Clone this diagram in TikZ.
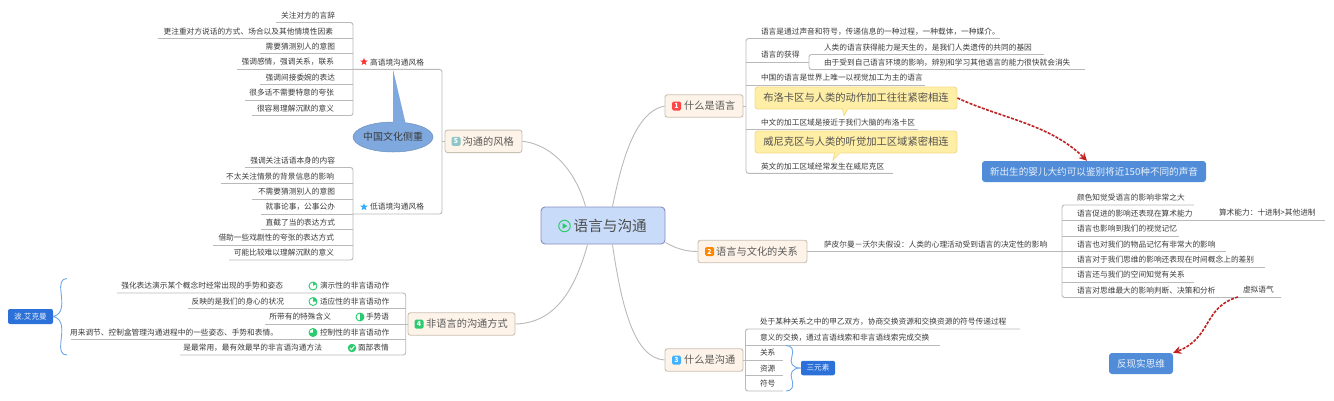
\documentclass[tikz,border=0pt]{standalone}
\usepackage{fontspec}
\setmainfont{Noto Sans CJK SC}
\usetikzlibrary{arrows.meta,shapes.geometric,calc}
\definecolor{linec}{HTML}{B9B9B9}
\definecolor{txtc}{HTML}{3A3A3A}
\definecolor{boxf}{HTML}{FDF3E8}
\definecolor{boxd}{HTML}{C9C0B4}
\definecolor{boxt}{HTML}{5A5A5A}
\definecolor{dblue}{HTML}{2B71D9}
\definecolor{mblue}{HTML}{508CD8}
\definecolor{ellf}{HTML}{7FA9DE}
\definecolor{yelf}{HTML}{FFEEA6}
\definecolor{yeld}{HTML}{F2DC8A}
\definecolor{redc}{HTML}{BE2222}
\definecolor{grn}{HTML}{2CCB6F}
\definecolor{bracec}{HTML}{6EA6E8}
\tikzset{
 ul/.style={draw=linec,line width=0.9pt},
 tx/.style={inner sep=0pt,outer sep=0pt,text=txtc,font=\fontsize{7.7pt}{9pt}\selectfont},
 box/.style={draw=boxd,fill=boxf,line width=0.9pt,rounded corners=2.5pt,inner sep=0pt},
 boxtxt/.style={inner sep=0pt,text=boxt,anchor=west,font=\fontsize{10.2pt}{12pt}\selectfont},
 badge/.style={inner sep=0pt,minimum size=9pt,rounded corners=1.5pt,text=white,font=\fontsize{7pt}{8pt}\selectfont\bfseries},
 bluebox/.style={fill=mblue,rounded corners=3pt,inner sep=0pt,text=white!88!mblue,font=\fontsize{9.6pt}{11pt}\selectfont},
 tagbox/.style={fill=dblue,rounded corners=2pt,inner sep=0pt,text=white!90!dblue,font=\fontsize{7.6pt}{9pt}\selectfont},
 yel/.style={fill=yelf,draw=yeld,line width=0.9pt,rounded corners=3pt,inner sep=0pt,minimum width=202pt,minimum height=22pt,text=boxt!90!black,font=\fontsize{10.3pt}{12pt}\selectfont},
 rdash/.style={draw=redc,line width=1.6pt,dash pattern=on 3pt off 1.4pt,-{Stealth[length=8pt,width=8pt]}},
 brc/.style={draw=bracec,line width=0.9pt},
 link/.style={draw=linec,line width=0.9pt},
}
% right-going leaf: name, trunk x, end x, line y, text x, text
\newcommand\lfR[6]{\coordinate (#1s) at (#2,#4);\coordinate (#1e) at (#3,#4);\node[tx,anchor=west] (#1) at (#5,#4-7.2) {#6};}
% left-going leaf: name, trunk x, end x, line y, text right x, text
\newcommand\lfL[6]{\coordinate (#1s) at (#2,#4);\coordinate (#1e) at (#3,#4);\node[tx,anchor=east] (#1) at (#5,#4-7.2) {#6};}
% pie icon: name, x, y, end angle (clockwise from top)
\newcommand\pieicon[4]{\node[circle,draw=grn,fill=white,line width=0.9pt,minimum size=8pt,inner sep=0pt] (#1) at (#2,#3) {};
 \fill[grn] (#1.center) -- ([shift={(90:4pt)}]#1.center) arc[start angle=90,end angle=#4,radius=4pt] -- cycle;}
\begin{document}
\begin{tikzpicture}[x=1pt,y=-1pt]
\useasboundingbox (0,0) rectangle (1334,400);
% central
\node[draw=blue!30!gray!70,fill={rgb,255:red,200;green,220;blue,250},line width=0.9pt,rounded corners=4pt,minimum width=124pt,minimum height=37pt,inner sep=0pt] (root) at (603,225.5) {};
\node[circle,draw=grn,line width=1pt,minimum size=11.5pt,inner sep=0pt] (play) at (564.5,226) {};
\fill[grn] ($(play)+(-1.8,-2.8)$) -- ($(play)+(3,0)$) -- ($(play)+(-1.8,2.8)$) -- cycle;
\node[inner sep=0pt,anchor=west,text=boxt!85!black,font=\fontsize{14.6pt}{16pt}\selectfont] (roott) at (573.5,226) {语言与沟通};
% main boxes
\node[box,minimum width=78pt,minimum height=22.5pt] (b1) at (704,106) {};
\node[box,minimum width=109pt,minimum height=22.5pt] (b2) at (752.5,251.5) {};
\node[box,minimum width=78pt,minimum height=22.5pt] (b3) at (704,360) {};
\node[box,minimum width=107pt,minimum height=22.5pt] (b4) at (461.5,324) {};
\node[box,minimum width=77pt,minimum height=22.5pt] (b5) at (483.5,141.3) {};
\node[badge,fill=red!72!white] (g1) at (676.5,106) {1};
\node[badge,fill=orange!95!yellow] (g2) at (709.5,251.5) {2};
\node[badge,fill=blue!40!cyan!75!white] (g3) at (676.5,360) {3};
\node[badge,fill=grn] (g4) at (419,324) {4};
\node[badge,fill=teal!45!white] (g5) at (456,141.3) {5};
\node[boxtxt] (t1) at (684,106) {什么是语言};
\node[boxtxt] (t2) at (716,251.5) {语言与文化的关系};
\node[boxtxt] (t3) at (684,360) {什么是沟通};
\node[boxtxt] (t4) at (426,324) {非语言的沟通方式};
\node[boxtxt] (t5) at (462.5,141.3) {沟通的风格};
% links from root
\draw[link] ($(root.north west)+(45,0)$) .. controls (577,175) and (555,145) .. (b5.east);
\draw[link] ($(root.north east)+(-53,0)$) .. controls (622,160) and (635,112) .. (b1.west);
\draw[link] ($(root.south east)+(0,-2)$) .. controls (675,248) and (685,251.5) .. (b2.west);
\draw[link] ($(root.south west)+(47,0)$) .. controls (575,290) and (555,323) .. (b4.east);
\draw[link] ($(root.south east)+(-53,0)$) .. controls (622,310) and (635,358) .. (b3.west);
% ---- branch 1
\lfR{a1}{746}{1000}{38.5}{761}{语言是通过声音和符号，传递信息的一种过程，一种载体，一种媒介。}
\lfR{a2}{746}{809}{62}{761}{语言的获得}
\lfR{a21}{809}{1044}{54.5}{824}{人类的语言获得能力是天生的，是我们人类遗传的共同的基因}
\lfR{a22}{809}{1085}{69.5}{824}{由于受到自己语言环境的影响，辨别和学习其他语言的能力很快就会消失}
\lfR{a3}{746}{925}{85}{761}{中国的语言是世界上唯一以视觉加工为主的语言}
\lfR{a4}{746}{918}{129.5}{761}{中文的加工区域是接近于我们大脑的布洛卡区}
\lfR{a5}{746}{893}{173.3}{761}{英文的加工区域经常发生在威尼克区}
\draw[ul,rounded corners=2.5pt] (a1e) -- (a1s) -- (a5s) -- (a5e);
\foreach \n in {a2,a3,a4}{\draw[ul] (\n s) -- (\n e);}
\draw[ul,rounded corners=2.5pt] (a21e) -- (a21s) -- (a22s) -- (a22e);
\draw[link] (b1.east) -- (b1.east -| a1s);
% yellow callouts
\draw[yeld,fill=yelf,line width=0.7pt] (842,107) -- (844,115.7) -- (849,107) -- cycle;
\draw[yeld,fill=yelf,line width=0.7pt] (835,151) -- (833,160) -- (842,151) -- cycle;
\node[yel] (y1) at (856,98) {布洛卡区与人类的动作加工往往紧密相连};
\node[yel] (y2) at (856,142) {威尼克区与人类的听觉加工区域紧密相连};
\fill[yelf] (842.5,107.5) -- (844,113.5) -- (848.5,107.5) -- cycle;
\fill[yelf] (835.5,151.5) -- (834.5,157.5) -- (841.5,151.5) -- cycle;
% blue comment
\node[bluebox,minimum width=224pt,minimum height=21pt] (c1) at (1094,171.5) {新出生的婴儿大约可以鉴别将近150种不同的声音};
\draw[rdash] (y1.east) .. controls (1000,118) and (1050,124) .. ($(c1.north)+(-7,0)$);
% ---- branch 2
\lfR{s0}{807}{1062}{251.5}{824}{萨皮尔曼－沃尔夫假设：人类的心理活动受到语言的决定性的影响}
\lfR{s1}{1062}{1194}{205}{1077}{颜色知觉受语言的影响非常之大}
\lfR{s2}{1062}{1325}{220.5}{1077}{语言促进的影响还表现在算术能力}
\node[tx,anchor=west] (s2a) at (1219,213) {算术能力：十进制>其他进制};
\lfR{s3}{1062}{1179}{236}{1077}{语言也影响到我们的视觉记忆}
\lfR{s4}{1062}{1226}{251.5}{1077}{语言也对我们的物品记忆有非常大的影响}
\lfR{s5}{1062}{1265}{267}{1077}{语言对于我们思维的影响还表现在时间概念上的差别}
\lfR{s6}{1062}{1194}{282}{1077}{语言还与我们的空间知觉有关系}
\lfR{s7}{1062}{1281}{297.5}{1077}{语言对思维最大的影响判断、决策和分析}
\node[tx,anchor=west] (s7a) at (1243,290) {虚拟语气};
\draw[ul] (b2.east) -- (s0e);
\draw[ul,rounded corners=2.5pt] (s1e) -- (s1s) -- (s7s) -- (s7e);
\foreach \n in {s2,s3,s4,s5,s6}{\draw[ul] (\n s) -- (\n e);}
\node[bluebox,minimum width=64pt,minimum height=21pt] (c2) at (1141,363.5) {反现实思维};
\coordinate (v1) at (1238,297);
\draw[rdash] (v1) .. controls (1203,307) and (1212,338) .. (c2.north east);
% ---- branch 3
\lfR{m1}{745.5}{1020}{329}{760}{处于某种关系之中的甲乙双方，协商交换资源和交换资源的符号传递过程}
\lfR{m2}{745.5}{940}{345}{760}{意义的交换，通过言语线索和非言语线索完成交换}
\lfR{m3}{745.5}{783}{360}{760}{关系}
\lfR{m4}{745.5}{783}{375.5}{760}{资源}
\lfR{m5}{745.5}{783}{391}{760}{符号}
\draw[ul,rounded corners=2.5pt] (m1e) -- (m1s) -- (m5s) -- (m5e);
\foreach \n in {m2,m3,m4}{\draw[ul] (\n s) -- (\n e);}
\draw[ul] (b3.east) -- (m3e);
\node[tagbox,minimum width=34pt,minimum height=14.5pt] (tr) at (818,368) {三元素};
\coordinate (bt) at (786,345.5);
\coordinate (bb) at (786,391);
\draw[brc] (bt) .. controls (792,345.5) and (794,350) .. (792,356) .. controls (790,362) and (791,368) .. (tr.west)
 (tr.west) .. controls (791,368) and (790,374) .. (792,380) .. controls (794,387) and (792,391) .. (bb);
% ---- branch 4
\lfL{n1}{405.7}{117}{293}{283}{强化表达演示某个概念时经常出现的手势和姿态}
\lfL{n2}{405.7}{188}{308.5}{284}{反映的是我们的身心的状况}
\lfL{n3}{408}{265}{324}{331}{所带有的特殊含义}
\lfL{n4}{405.7}{71}{339.5}{278}{用来调节、控制盒管理沟通进程中的一些姿态、手势和表情。}
\lfL{n5}{405.7}{180}{355}{322}{是最常用，最有效最早的非言语沟通方法}
\draw[ul,rounded corners=2.5pt] (n1e) -- (n1s) -- (n5s) -- (n5e);
\foreach \n in {n2,n3,n4}{\draw[ul] (\n s) -- (\n e);}
\pieicon{p1}{313}{286}{30}
\pieicon{p2}{313}{301.5}{0}
\pieicon{p3}{360}{317}{-90}
\pieicon{p4}{313}{332.5}{-180}
\node[circle,fill=grn,minimum size=8.5pt,inner sep=0pt] (p5) at (352,348) {};
\draw[white,line width=1pt] ($(p5)+(-2,0)$) -- ($(p5)+(-0.5,1.7)$) -- ($(p5)+(2.2,-1.6)$);
\node[tx,anchor=west] (q1) at (320,286) {演示性的非言语动作};
\node[tx,anchor=west] (q2) at (320,301.5) {适应性的非言语动作};
\node[tx,anchor=west] (q3) at (366,317) {手势语};
\node[tx,anchor=west] (q4) at (320,332.5) {控制性的非言语动作};
\node[tx,anchor=west] (q5) at (358,348) {面部表情};
\node[tagbox,minimum width=45pt,minimum height=15pt] (ek) at (30.5,316.5) {波.艾克曼};
\coordinate (lt) at (67,278.5);
\coordinate (lb) at (67,355);
\draw[brc] (lt) .. controls (61,278.5) and (60,284) .. (61,292) .. controls (62,302) and (64,314) .. (ek.east)
 (ek.east) .. controls (64,319) and (62,331) .. (61,341) .. controls (60,350) and (61,355) .. (lb);
% ---- branch 5
\lfL{h1}{353}{276}{22.5}{335}{关注对方的言辞}
\lfL{h2}{353}{158}{38.5}{333}{更注重对方说话的方式、场合以及其他情境性因素}
\lfL{h3}{353}{260}{53.5}{335}{需要猜测别人的意图}
\lfL{h4}{353}{237}{69.3}{334}{强调感情，强调关系，联系}
\lfL{h5}{353}{260}{84.5}{335}{强调间接委婉的表达}
\lfL{h6}{353}{245}{100}{334}{很多话不需要特意的夸张}
\lfL{h7}{353}{252}{115.5}{334}{很容易理解沉默的意义}
\draw[ul,rounded corners=2.5pt] (h1e) -- (h1s) -- (h7s) -- (h7e);
\foreach \n in {h2,h3,h4,h5,h6}{\draw[ul] (\n s) -- (\n e);}
\lfL{l1}{353}{245}{167.5}{335}{强调关注话语本身的内容}
\lfL{l2}{353}{221}{183.5}{334}{不太关注情景的背景信息的影响}
\lfL{l3}{353}{252}{199}{335}{不需要猜测别人的意图}
\lfL{l4}{353}{261}{214}{335}{就事论事，公事公办}
\lfL{l5}{353}{261}{229.5}{335}{直截了当的表达方式}
\lfL{l6}{353}{213}{245}{334}{借助一些戏剧性的夸张的表达方式}
\lfL{l7}{353}{229}{260}{334}{可能比较难以理解沉默的意义}
\draw[ul,rounded corners=2.5pt] (l1e) -- (l1s) -- (l7s) -- (l7e);
\foreach \n in {l2,l3,l4,l5,l6}{\draw[ul] (\n s) -- (\n e);}
\lfL{hh}{442}{353}{69.3}{424}{高语境沟通风格}
\lfL{ll}{442}{353}{214}{424}{低语境沟通风格}
\draw[ul,rounded corners=2.5pt] (hhe) -- (hhs) -- (lls) -- (lle);
\draw[link] (b5.west) -- (b5.west -| hhs);
\node[star,star points=5,star point ratio=2.4,fill=red!80!white,minimum size=8pt,inner sep=0pt] (st1) at (364,61.8) {};
\node[star,star points=5,star point ratio=2.4,fill=blue!40!cyan!80!white,minimum size=8pt,inner sep=0pt] (st2) at (364,207) {};
% ellipse callout
\node[ellipse,fill=ellf,draw=ellf!85!black,line width=0.5pt,minimum width=80pt,minimum height=30pt,inner sep=0pt] (el) at (393,137) {};
\node[inner sep=0pt,text=txtc,font=\fontsize{10pt}{12pt}\selectfont] (elt) at (el.center) {中国文化侧重};
\coordinate (apex) at (393,69.5);
\fill[ellf] (apex) -- (393,124) -- (406,125) -- cycle;
\end{tikzpicture}
\end{document}
